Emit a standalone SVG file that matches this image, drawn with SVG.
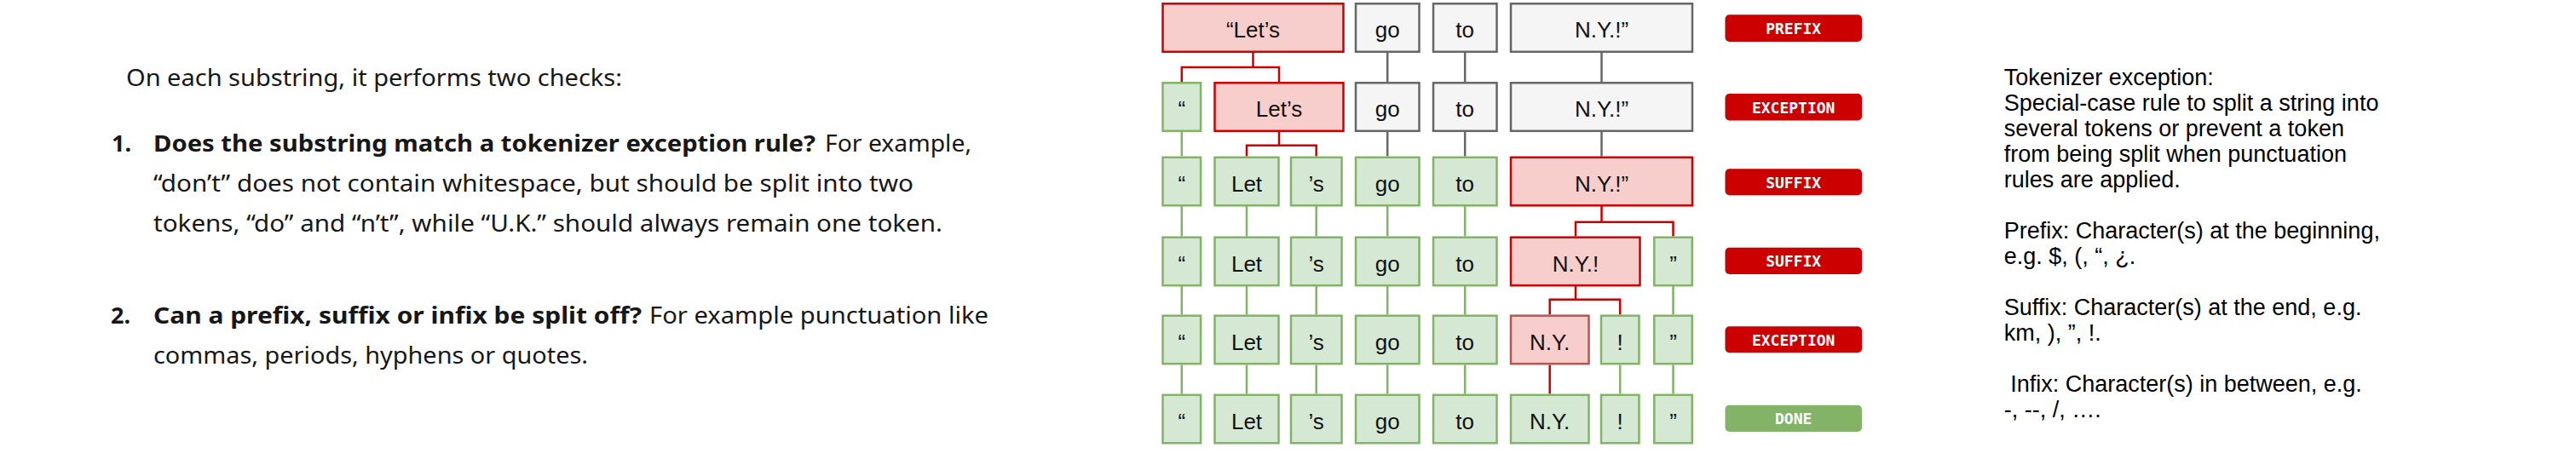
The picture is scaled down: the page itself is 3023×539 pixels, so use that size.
<svg xmlns="http://www.w3.org/2000/svg" width="3023" height="539" viewBox="0 0 3023 539">
<style>
.bg{fill:#ffffff}
.red{fill:#f8cecc;stroke:#cc0000;stroke-width:2.5}
.red2{fill:#f8cecc;stroke:#b85450;stroke-width:2.5}
.gray{fill:#f5f5f5;stroke:#666666;stroke-width:2.5}
.green{fill:#d5e8d4;stroke:#82b366;stroke-width:2.5}
.t{font-family:"Liberation Sans",Arial,sans-serif;font-size:26px;fill:#111111;text-anchor:middle}
.lab{font-family:"DejaVu Sans Mono","Liberation Mono",monospace;font-weight:bold;font-size:18px;fill:#ffffff;text-anchor:middle}
.lr{fill:#cc0000}
.lg{fill:#82b366}
.cr{fill:none;stroke:#cc0000;stroke-width:2.5}
.cg{fill:none;stroke:#82b366;stroke-width:2.5}
.ck{fill:none;stroke:#666666;stroke-width:2.5}
.p{font-family:"Noto Sans","Open Sans",sans-serif;font-size:27px;fill:#171717}
.pb{font-family:"Noto Sans","Open Sans",sans-serif;font-size:27px;font-weight:bold;fill:#171717}
.r{font-family:"Liberation Sans",Arial,sans-serif;font-size:27px;fill:#000000}
</style>
<rect class="bg" x="0" y="0" width="3023" height="539"/>

<g id="explanation">
<text class="p" x="148" y="101" textLength="582" lengthAdjust="spacingAndGlyphs">On each substring, it performs two checks:</text>
<text class="pb" x="131" y="178">1.</text>
<text class="pb" x="180" y="178" textLength="777" lengthAdjust="spacingAndGlyphs">Does the substring match a tokenizer exception rule?</text>
<text class="p" x="968" y="178" textLength="172" lengthAdjust="spacingAndGlyphs">For example,</text>
<text class="p" x="180" y="225" textLength="892" lengthAdjust="spacingAndGlyphs">“don’t” does not contain whitespace, but should be split into two</text>
<text class="p" x="180" y="272" textLength="926" lengthAdjust="spacingAndGlyphs">tokens, “do” and “n’t”, while “U.K.” should always remain one token.</text>
<text class="pb" x="130" y="380">2.</text>
<text class="pb" x="180" y="380" textLength="573" lengthAdjust="spacingAndGlyphs">Can a prefix, suffix or infix be split off?</text>
<text class="p" x="762" y="380" textLength="398" lengthAdjust="spacingAndGlyphs">For example punctuation like</text>
<text class="p" x="180" y="427" textLength="510" lengthAdjust="spacingAndGlyphs">commas, periods, hyphens or quotes.</text>
</g>

<g id="connectors">
<!-- row1 -> row2 -->
<path class="cr" d="M1470.5,62 V79 M1386.8,96 V79 H1501 V96"/>
<path class="ck" d="M1628.2,62 V96 M1719.2,62 V96 M1879.5,62 V96"/>
<!-- row2 -> row3 -->
<path class="cg" d="M1386.8,154.7 V183.5"/>
<path class="cr" d="M1501,154.7 V170.7 M1463,183.5 V170.7 H1544.7 V183.5"/>
<path class="ck" d="M1628.2,154.7 V183.5 M1719.2,154.7 V183.5 M1879.5,154.7 V183.5"/>
<!-- row3 -> row4 -->
<path class="cg" d="M1386.8,242 V277.5 M1463,242 V277.5 M1544.7,242 V277.5 M1628.2,242 V277.5 M1719.2,242 V277.5"/>
<path class="cr" d="M1879.5,242 V260.7 M1849,277.5 V260.7 H1963.5 V277.5"/>
<!-- row4 -> row5 -->
<path class="cg" d="M1386.8,336 V369.5 M1463,336 V369.5 M1544.7,336 V369.5 M1628.2,336 V369.5 M1719.2,336 V369.5 M1963.5,336 V369.5"/>
<path class="cr" d="M1849,336 V351.7 M1818.7,369.5 V351.7 H1901.2 V369.5"/>
<!-- row5 -> row6 -->
<path class="cg" d="M1386.8,428.5 V462.5 M1463,428.5 V462.5 M1544.7,428.5 V462.5 M1628.2,428.5 V462.5 M1719.2,428.5 V462.5 M1901.2,428.5 V462.5 M1963.5,428.5 V462.5"/>
<path class="cr" d="M1818.7,428.5 V462.5"/>
</g>

<!-- Row 1 -->
<g id="r1-lets"><rect class="red" x="1364.5" y="4.3" width="212" height="56.5"/><text class="t" x="1470.5" y="44">“Let’s</text></g>
<g id="r1-go"><rect class="gray" x="1591" y="4.3" width="74.5" height="56.5"/><text class="t" x="1628.2" y="44">go</text></g>
<g id="r1-to"><rect class="gray" x="1682" y="4.3" width="74.5" height="56.5"/><text class="t" x="1719.2" y="44">to</text></g>
<g id="r1-ny"><rect class="gray" x="1773" y="4.3" width="213" height="56.5"/><text class="t" x="1879.5" y="44">N.Y.!”</text></g>
<g id="label-prefix"><rect class="lr" x="2024.5" y="17.3" width="160.5" height="31.7" rx="5"/><text class="lab" x="2104.7" y="39.8">PREFIX</text></g>

<!-- Row 2 -->
<g id="r2-q"><rect class="green" x="1364.5" y="97.3" width="44.6" height="56.5"/><text class="t" x="1386.8" y="137">“</text></g>
<g id="r2-lets"><rect class="red" x="1425.5" y="97.3" width="151" height="56.5"/><text class="t" x="1501" y="137">Let’s</text></g>
<g id="r2-go"><rect class="gray" x="1591" y="97.3" width="74.5" height="56.5"/><text class="t" x="1628.2" y="137">go</text></g>
<g id="r2-to"><rect class="gray" x="1682" y="97.3" width="74.5" height="56.5"/><text class="t" x="1719.2" y="137">to</text></g>
<g id="r2-ny"><rect class="gray" x="1773" y="97.3" width="213" height="56.5"/><text class="t" x="1879.5" y="137">N.Y.!”</text></g>
<g id="label-exception1"><rect class="lr" x="2024.5" y="110" width="160.5" height="31.5" rx="5"/><text class="lab" x="2104.7" y="132.5">EXCEPTION</text></g>

<!-- Row 3 -->
<g id="r3-q"><rect class="green" x="1364.5" y="184.8" width="44.6" height="56.5"/><text class="t" x="1386.8" y="224.5">“</text></g>
<g id="r3-let"><rect class="green" x="1425.5" y="184.8" width="75" height="56.5"/><text class="t" x="1463" y="224.5">Let</text></g>
<g id="r3-s"><rect class="green" x="1515" y="184.8" width="59.5" height="56.5"/><text class="t" x="1544.7" y="224.5">’s</text></g>
<g id="r3-go"><rect class="green" x="1591" y="184.8" width="74.5" height="56.5"/><text class="t" x="1628.2" y="224.5">go</text></g>
<g id="r3-to"><rect class="green" x="1682" y="184.8" width="74.5" height="56.5"/><text class="t" x="1719.2" y="224.5">to</text></g>
<g id="r3-ny"><rect class="red" x="1773" y="184.8" width="213" height="56.5"/><text class="t" x="1879.5" y="224.5">N.Y.!”</text></g>
<g id="label-suffix1"><rect class="lr" x="2024.5" y="198.3" width="160.5" height="31" rx="5"/><text class="lab" x="2104.7" y="220.5">SUFFIX</text></g>

<!-- Row 4 -->
<g id="r4-q"><rect class="green" x="1364.5" y="278.7" width="44.6" height="56.5"/><text class="t" x="1386.8" y="318.5">“</text></g>
<g id="r4-let"><rect class="green" x="1425.5" y="278.7" width="75" height="56.5"/><text class="t" x="1463" y="318.5">Let</text></g>
<g id="r4-s"><rect class="green" x="1515" y="278.7" width="59.5" height="56.5"/><text class="t" x="1544.7" y="318.5">’s</text></g>
<g id="r4-go"><rect class="green" x="1591" y="278.7" width="74.5" height="56.5"/><text class="t" x="1628.2" y="318.5">go</text></g>
<g id="r4-to"><rect class="green" x="1682" y="278.7" width="74.5" height="56.5"/><text class="t" x="1719.2" y="318.5">to</text></g>
<g id="r4-ny"><rect class="red" x="1773" y="278.7" width="151.5" height="56.5"/><text class="t" x="1849" y="318.5">N.Y.!</text></g>
<g id="r4-cq"><rect class="green" x="1941.3" y="278.7" width="44.5" height="56.5"/><text class="t" x="1963.5" y="318.5">”</text></g>
<g id="label-suffix2"><rect class="lr" x="2024.5" y="290.7" width="160.5" height="31.3" rx="5"/><text class="lab" x="2104.7" y="313">SUFFIX</text></g>

<!-- Row 5 -->
<g id="r5-q"><rect class="green" x="1364.5" y="370.7" width="44.6" height="56.5"/><text class="t" x="1386.8" y="410.5">“</text></g>
<g id="r5-let"><rect class="green" x="1425.5" y="370.7" width="75" height="56.5"/><text class="t" x="1463" y="410.5">Let</text></g>
<g id="r5-s"><rect class="green" x="1515" y="370.7" width="59.5" height="56.5"/><text class="t" x="1544.7" y="410.5">’s</text></g>
<g id="r5-go"><rect class="green" x="1591" y="370.7" width="74.5" height="56.5"/><text class="t" x="1628.2" y="410.5">go</text></g>
<g id="r5-to"><rect class="green" x="1682" y="370.7" width="74.5" height="56.5"/><text class="t" x="1719.2" y="410.5">to</text></g>
<g id="r5-ny"><rect class="red2" x="1773" y="370.7" width="91.5" height="56.5"/><text class="t" x="1818.7" y="410.5">N.Y.</text></g>
<g id="r5-ex"><rect class="green" x="1879" y="370.7" width="44.5" height="56.5"/><text class="t" x="1901.2" y="410.5">!</text></g>
<g id="r5-cq"><rect class="green" x="1941.3" y="370.7" width="44.5" height="56.5"/><text class="t" x="1963.5" y="410.5">”</text></g>
<g id="label-exception2"><rect class="lr" x="2024.5" y="383.3" width="160.5" height="31" rx="5"/><text class="lab" x="2104.7" y="405.5">EXCEPTION</text></g>

<!-- Row 6 -->
<g id="r6-q"><rect class="green" x="1364.5" y="463.8" width="44.6" height="56.5"/><text class="t" x="1386.8" y="503.5">“</text></g>
<g id="r6-let"><rect class="green" x="1425.5" y="463.8" width="75" height="56.5"/><text class="t" x="1463" y="503.5">Let</text></g>
<g id="r6-s"><rect class="green" x="1515" y="463.8" width="59.5" height="56.5"/><text class="t" x="1544.7" y="503.5">’s</text></g>
<g id="r6-go"><rect class="green" x="1591" y="463.8" width="74.5" height="56.5"/><text class="t" x="1628.2" y="503.5">go</text></g>
<g id="r6-to"><rect class="green" x="1682" y="463.8" width="74.5" height="56.5"/><text class="t" x="1719.2" y="503.5">to</text></g>
<g id="r6-ny"><rect class="green" x="1773" y="463.8" width="91.5" height="56.5"/><text class="t" x="1818.7" y="503.5">N.Y.</text></g>
<g id="r6-ex"><rect class="green" x="1879" y="463.8" width="44.5" height="56.5"/><text class="t" x="1901.2" y="503.5">!</text></g>
<g id="r6-cq"><rect class="green" x="1941.3" y="463.8" width="44.5" height="56.5"/><text class="t" x="1963.5" y="503.5">”</text></g>
<g id="label-done"><rect class="lg" x="2024.5" y="475.7" width="160.5" height="31.3" rx="5"/><text class="lab" x="2104.7" y="498">DONE</text></g>

<g id="definitions">
<text class="r" x="2351.7" y="100">Tokenizer exception:</text>
<text class="r" x="2351.7" y="130">Special-case rule to split a string into</text>
<text class="r" x="2351.7" y="160">several tokens or prevent a token</text>
<text class="r" x="2351.7" y="190">from being split when punctuation</text>
<text class="r" x="2351.7" y="220">rules are applied.</text>
<text class="r" x="2351.7" y="280">Prefix: Character(s) at the beginning,</text>
<text class="r" x="2351.7" y="310">e.g. $, (, “, ¿.</text>
<text class="r" x="2351.7" y="370">Suffix: Character(s) at the end, e.g.</text>
<text class="r" x="2351.7" y="400">km, ), ”, !.</text>
<text class="r" x="2351.7" y="460" xml:space="preserve"> Infix: Character(s) in between, e.g.</text>
<text class="r" x="2351.7" y="490">-, --, /, ….</text>
</g>
</svg>
